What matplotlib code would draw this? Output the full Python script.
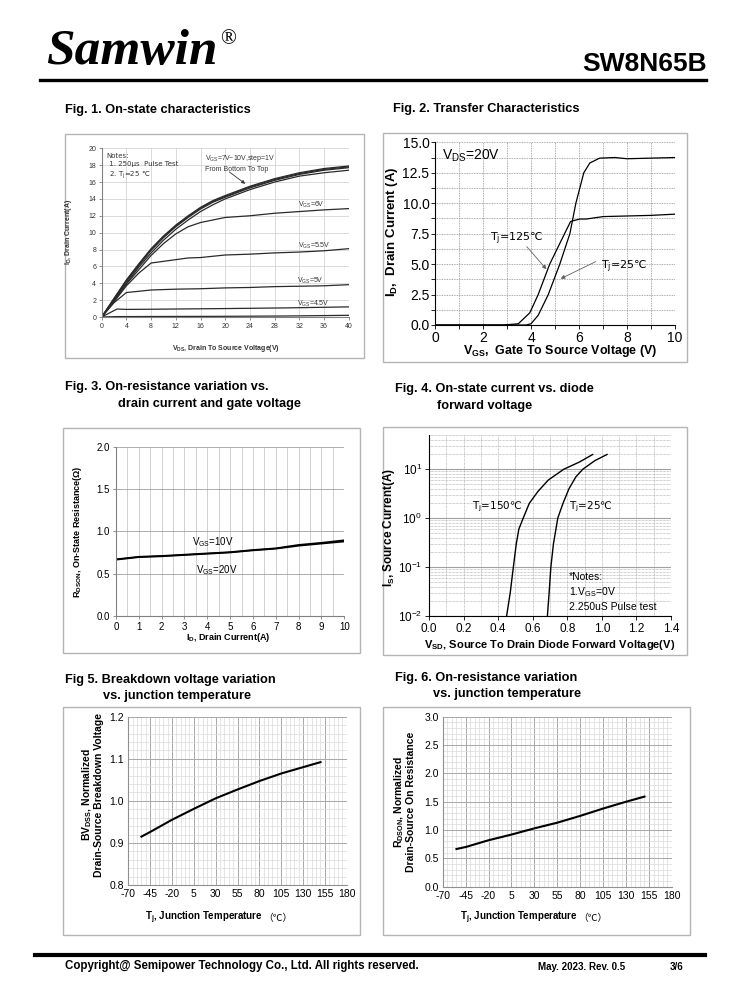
import matplotlib
matplotlib.use("Agg")
import matplotlib.pyplot as plt
from matplotlib.patches import Rectangle
from matplotlib.lines import Line2D
from matplotlib.ticker import MultipleLocator, LogLocator, NullFormatter

plt.rcParams['font.family'] = ['Liberation Sans', 'DejaVu Sans']
plt.rcParams['mathtext.default'] = 'regular'
plt.rcParams['axes.unicode_minus'] = False

W, H = 738, 1000
CJK = ['Noto Sans CJK SC', 'DejaVu Sans']

# Fig 1: on-state characteristics
VDS = [0, 2, 4, 6, 8, 10, 12, 14, 16, 18, 20, 24, 28, 32, 36, 40]
ID_VGS10 = [0, 2.2, 4.4, 6.3, 8.1, 9.6, 10.9, 12.0, 13.0, 13.8, 14.4, 15.5, 16.4, 17.1, 17.6, 17.9]
ID_VGS9 = [0, 2.2, 4.3, 6.2, 8.0, 9.5, 10.8, 11.9, 12.9, 13.7, 14.3, 15.4, 16.3, 17.0, 17.5, 17.8]
ID_VGS8 = [0, 2.1, 4.2, 6.1, 7.9, 9.4, 10.7, 11.8, 12.8, 13.6, 14.2, 15.3, 16.2, 16.9, 17.4, 17.7]
ID_VGS7 = [0, 2.0, 4.0, 5.9, 7.6, 9.1, 10.4, 11.5, 12.5, 13.3, 14.0, 15.1, 16.0, 16.7, 17.1, 17.4]
ID_VGS6 = [0, 1.9, 3.9, 5.6, 7.3, 8.7, 9.85, 10.7, 11.2, 11.5, 11.8, 12.0, 12.3, 12.5, 12.7, 12.85]
VDS_55 = [0, 2, 4, 6, 8, 12, 14, 16, 20, 24, 28, 32, 36, 40]
ID_VGS55 = [0, 1.8, 3.7, 5.2, 6.4, 6.8, 7.0, 7.05, 7.35, 7.45, 7.6, 7.7, 7.85, 8.1]
VDS_5 = [0, 2, 4, 8, 12, 16, 20, 24, 28, 32, 36, 40]
ID_VGS5 = [0, 1.7, 2.9, 3.2, 3.3, 3.35, 3.45, 3.5, 3.6, 3.65, 3.7, 3.83]
VDS_LOW = [0, 2.5, 4, 8, 20, 30, 40]
ID_VGS45 = [0, 0.95, 0.9, 0.92, 1.0, 1.08, 1.2]
ID_VGS4 = [0, 0.05, 0.05, 0.06, 0.08, 0.12, 0.2]

# Fig 2: transfer characteristics
VGS_25 = [0, 3.8, 4.0, 4.3, 4.72, 5.2, 5.62, 5.87, 6.2, 6.45, 6.86, 7.5, 8, 9, 10]
ID_25 = [0, 0, 0.1, 0.8, 2.5, 5.0, 7.5, 10.0, 12.5, 13.3, 13.7, 13.75, 13.65, 13.7, 13.75]
VGS_125 = [0, 2.84, 3.47, 3.95, 4.3, 4.78, 5.4, 5.65, 6.03, 6.3, 7.0, 8, 9, 10]
ID_125 = [0, 0, 0.1, 1.0, 2.5, 5.0, 7.5, 8.5, 8.7, 8.7, 8.9, 8.95, 9.0, 9.1]

# Fig 3: on-resistance vs drain current
ID3 = [0, 1, 2, 3, 4, 5, 6, 7, 8, 9, 10]
RDS_10V = [0.67, 0.70, 0.71, 0.725, 0.74, 0.755, 0.78, 0.80, 0.84, 0.865, 0.895]
RDS_20V = [0.665, 0.695, 0.705, 0.72, 0.735, 0.75, 0.775, 0.795, 0.83, 0.855, 0.88]

# Fig 4: body diode forward voltage
VSD_150 = [0.449, 0.47, 0.488, 0.505, 0.52, 0.545, 0.58, 0.63, 0.69, 0.78, 0.87, 0.947]
IS_150 = [0.01, 0.03, 0.1, 0.3, 0.6, 1.0, 2.0, 3.5, 6, 10, 14, 20]
VSD_25 = [0.685, 0.695, 0.705, 0.72, 0.745, 0.775, 0.81, 0.85, 0.89, 0.96, 1.03]
IS_25 = [0.01, 0.03, 0.1, 0.3, 1.0, 2.0, 4.0, 7.0, 10.0, 15.0, 20.0]

# Fig 5 / Fig 6: temperature dependence
TJ = [-55, -45, -20, 5, 30, 55, 80, 105, 130, 150]
BV_NORM = [0.915, 0.926, 0.955, 0.981, 1.006, 1.027, 1.047, 1.065, 1.08, 1.092]
RDS_NORM = [0.665, 0.70, 0.82, 0.92, 1.03, 1.13, 1.25, 1.38, 1.50, 1.59]
TJ_TICKS = [-70, -45, -20, 5, 30, 55, 80, 105, 130, 155, 180]


def add_ax(fig, x0, y0, x1, y1):
    return fig.add_axes([x0 / W, 1 - y1 / H, (x1 - x0) / W, (y1 - y0) / H])


def frame(fig, x0, y0, x1, y1, color="#b4b4b4", lw=1.0):
    fig.patches.append(Rectangle((x0 / W, 1 - y1 / H), (x1 - x0) / W, (y1 - y0) / H,
                                 transform=fig.transFigure, fill=False, ec=color, lw=lw))


def ftext(fig, x, y, s, **kw):
    kw.setdefault("va", "center")
    fig.text(x / W, 1 - y / H, s, **kw)


def hline(fig, x0, x1, y, lw):
    fig.add_artist(Line2D([x0 / W, x1 / W], [1 - y / H, 1 - y / H], color="black", lw=lw,
                          transform=fig.transFigure))


def style_spines(ax, color):
    for s in ["top", "right"]:
        ax.spines[s].set_visible(False)
    for s in ["left", "bottom"]:
        ax.spines[s].set_color(color)
        ax.spines[s].set_linewidth(0.8)


def plot_fig1(fig):
    frame(fig, 65, 134, 364, 358)
    ax = add_ax(fig, 101.7, 148.3, 348.7, 317)
    c = "#2a2a2a"
    for y in [ID_VGS10, ID_VGS9, ID_VGS8, ID_VGS7, ID_VGS6]:
        ax.plot(VDS, y, color=c, lw=0.9)
    ax.plot(VDS_55, ID_VGS55, color=c, lw=0.9)
    ax.plot(VDS_5, ID_VGS5, color=c, lw=0.9)
    ax.plot(VDS_LOW, ID_VGS45, color=c, lw=0.9)
    ax.plot(VDS_LOW, ID_VGS4, color=c, lw=0.9)
    ax.set_xlim(0, 40)
    ax.set_ylim(0, 20)
    ax.set_xticks(range(0, 41, 4))
    ax.set_yticks(range(0, 21, 2))
    ax.grid(color="#d4d4d4", lw=0.6)
    ax.set_axisbelow(True)
    style_spines(ax, "#808080")
    ax.tick_params(labelsize=5, length=2, width=0.6, color="#808080", labelcolor="#333333", pad=2)
    fs = 5
    ax.text(0.8, 19.4, "Notes:\n 1. 250μs  Pulse Test\n 2. T$_j$=25 ℃", fontsize=fs, va="top",
            color="#333333", linespacing=1.3, family=["DejaVu Sans"])
    ax.text(16.8, 19.4, "V$_{GS}$=7V~10V,step=1V\nFrom Bottom To Top", fontsize=fs, va="top",
            color="#333333", linespacing=1.3)
    ax.annotate("", xy=(23.6, 15.6), xytext=(20.3, 17.4),
                arrowprops=dict(arrowstyle="-|>", color="#333333", lw=0.6, mutation_scale=5))
    for x, y, s in [(34, 13.3, "V$_{GS}$=6V"), (34.4, 8.4, "V$_{GS}$=5.5V"),
                    (33.8, 4.3, "V$_{GS}$=5V"), (34.2, 1.6, "V$_{GS}$=4.5V")]:
        ax.text(x, y, s, fontsize=fs, ha="center", va="center", color="#333333")
    ftext(fig, 69, 232, "I$_D$, Drain Current(A)", fontsize=5, fontweight="bold", rotation=90,
          ha="center", color="#333333")
    ftext(fig, 226, 348, "V$_{DS}$, Drain To Source Voltage(V)", fontsize=5, fontweight="bold",
          ha="center", color="#333333")


def plot_fig2(fig):
    frame(fig, 383, 133, 687, 362)
    ax = add_ax(fig, 435, 142.3, 675, 325)
    ax.plot(VGS_25, ID_25, color="black", lw=0.9)
    ax.plot(VGS_125, ID_125, color="black", lw=0.9)
    ax.set_xlim(0, 10)
    ax.set_ylim(0, 15)
    ax.xaxis.set_major_locator(MultipleLocator(2))
    ax.xaxis.set_minor_locator(MultipleLocator(1))
    ax.yaxis.set_major_locator(MultipleLocator(2.5))
    ax.yaxis.set_minor_locator(MultipleLocator(1.25))
    ax.yaxis.set_major_formatter(lambda v, p: f"{v:.1f}")
    ax.grid(which="both", color="#909090", lw=0.6, ls=(0, (1, 1)))
    style_spines(ax, "black")
    ax.tick_params(which="both", labelsize=10, length=3, width=0.6, pad=1)
    ax.text(0.3, 13.9, "V$_{DS}$=20V", fontsize=10, va="center")
    ax.text(2.3, 7.1, "T$_j$=125℃", fontsize=8, va="center", family=["DejaVu Sans"])
    ax.text(6.9, 4.8, "T$_j$=25℃", fontsize=8, va="center", family=["DejaVu Sans"])
    ax.annotate("", xy=(4.72, 4.4), xytext=(3.75, 6.6),
                arrowprops=dict(arrowstyle="-|>", color="#606060", lw=0.6, mutation_scale=6))
    ax.annotate("", xy=(5.13, 3.7), xytext=(6.8, 5.3),
                arrowprops=dict(arrowstyle="-|>", color="#606060", lw=0.6, mutation_scale=6))
    ftext(fig, 392, 232, "I$_D$,  Drain Current (A)", fontsize=9.5, fontweight="bold", rotation=90,
          ha="center")
    ftext(fig, 560, 351, "V$_{GS}$,  Gate To Source Voltage (V)", fontsize=9, fontweight="bold",
          ha="center")


def plot_fig3(fig):
    frame(fig, 63, 428, 360, 653)
    ax = add_ax(fig, 116, 446.7, 344.3, 616)
    ax.plot(ID3, RDS_10V, color="black", lw=1.2)
    ax.plot(ID3, RDS_20V, color="black", lw=1.2)
    ax.set_xlim(0, 10)
    ax.set_ylim(0, 2)
    ax.xaxis.set_major_locator(MultipleLocator(1))
    ax.xaxis.set_minor_locator(MultipleLocator(0.5))
    ax.yaxis.set_major_locator(MultipleLocator(0.5))
    ax.yaxis.set_major_formatter(lambda v, p: f"{v:.1f}")
    ax.grid(axis="x", which="both", color="#c8c8c8", lw=0.6)
    ax.grid(axis="y", which="major", color="#a0a0a0", lw=0.6)
    ax.set_axisbelow(True)
    style_spines(ax, "#808080")
    ax.tick_params(which="both", labelsize=7, length=2.5, width=0.6, color="#808080", pad=2)
    ax.tick_params(which="minor", length=0)
    ax.text(4.26, 0.87, "V$_{GS}$=10V", fontsize=7, ha="center", va="center")
    ax.text(4.4, 0.54, "V$_{GS}$=20V", fontsize=7, ha="center", va="center")
    ftext(fig, 78, 532, "R$_{DSON}$, On-State Resistance(Ω)", fontsize=6.5, fontweight="bold",
          rotation=90, ha="center")
    ftext(fig, 228, 637, "I$_D$, Drain Current(A)", fontsize=6.5, fontweight="bold", ha="center")


def plot_fig4(fig):
    frame(fig, 383, 427, 687, 655)
    ax = add_ax(fig, 429, 435, 671, 616)
    ax.plot(VSD_150, IS_150, color="black", lw=1.0)
    ax.plot(VSD_25, IS_25, color="black", lw=1.0)
    ax.set_yscale("log")
    ax.set_xlim(0, 1.4)
    ax.set_ylim(0.01, 50)
    ax.xaxis.set_major_locator(MultipleLocator(0.2))
    ax.xaxis.set_minor_locator(MultipleLocator(0.1))
    ax.xaxis.set_major_formatter(lambda v, p: f"{v:.1f}")
    ax.yaxis.set_major_locator(LogLocator(base=10, numticks=10))
    ax.yaxis.set_minor_locator(LogLocator(base=10, subs=range(2, 10), numticks=20))
    ax.yaxis.set_minor_formatter(NullFormatter())
    ax.grid(axis="y", which="major", color="#a0a0a0", lw=0.8)
    ax.grid(axis="y", which="minor", color="#a0a0a0", lw=0.5, ls=(0, (1, 1)))
    ax.grid(axis="x", which="both", color="#a0a0a0", lw=0.5, ls=(0, (1, 1)))
    style_spines(ax, "black")
    ax.tick_params(which="both", labelsize=8.5, length=3, width=0.6, pad=2)
    ax.tick_params(which="minor", length=0)
    ax.text(0.25, 1.7, "T$_j$=150℃", fontsize=7.5, va="center", family=["DejaVu Sans"])
    ax.text(0.81, 1.7, "T$_j$=25℃", fontsize=7.5, va="center", family=["DejaVu Sans"])
    ax.text(0.81, 0.012, "*Notes:\n1.V$_{GS}$=0V\n2.250uS Pulse test", fontsize=7.5,
            va="bottom", linespacing=1.35)
    ftext(fig, 389, 527, "I$_S$, Source Current(A)", fontsize=8.5, fontweight="bold", rotation=90,
          ha="center")
    ftext(fig, 550, 645, "V$_{SD}$, Source To Drain Diode Forward Voltage(V)", fontsize=8,
          fontweight="bold", ha="center")


def temp_axes(ax, ymax, ymajor, yminor, ymin=0.0):
    ax.set_xlim(-70, 180)
    ax.set_ylim(ymin, ymax)
    ax.set_xticks(TJ_TICKS)
    ax.xaxis.set_minor_locator(MultipleLocator(5))
    ax.yaxis.set_major_locator(MultipleLocator(ymajor))
    ax.yaxis.set_minor_locator(MultipleLocator(yminor))
    ax.yaxis.set_major_formatter(lambda v, p: f"{v:.1f}")
    ax.grid(which="major", color="#a8a8a8", lw=0.7)
    ax.grid(which="minor", color="#dadada", lw=0.5)
    ax.set_axisbelow(True)
    style_spines(ax, "#909090")
    ax.tick_params(which="both", labelsize=7.5, length=0, pad=3)


def plot_fig5(fig):
    frame(fig, 63, 707, 360, 935)
    ax = add_ax(fig, 128.3, 716.7, 346.7, 885)
    ax.plot(TJ, BV_NORM, color="black", lw=1.5)
    temp_axes(ax, 1.2, 0.1, 0.02, ymin=0.8)
    ftext(fig, 92, 795, "BV$_{DSS}$, Normalized\nDrain-Source Breakdown Voltage", fontsize=7.5,
          fontweight="bold", rotation=90, ha="center", linespacing=1.0)
    ftext(fig, 145, 918, "T$_j$, Junction Temperature", fontsize=7, fontweight="bold", ha="left")
    ftext(fig, 263, 918, "（℃）", fontsize=7, ha="left", family=CJK)


def plot_fig6(fig):
    frame(fig, 383, 707, 690, 935)
    ax = add_ax(fig, 442.7, 716.7, 672, 886.7)
    ax.plot(TJ, RDS_NORM, color="black", lw=1.5)
    temp_axes(ax, 3.0, 0.5, 0.1)
    ftext(fig, 404, 802, "R$_{DSON}$, Normalized\nDrain-Source On Resistance", fontsize=7.5,
          fontweight="bold", rotation=90, ha="center", linespacing=1.0)
    ftext(fig, 460, 918, "T$_j$, Junction Temperature", fontsize=7, fontweight="bold", ha="left")
    ftext(fig, 578, 918, "（℃）", fontsize=7, ha="left", family=CJK)


def page(fig):
    ftext(fig, 46, 52, "Samwin", fontsize=37, fontweight="bold", style="italic",
          family=["Liberation Serif"], ha="left")
    ftext(fig, 220, 40, "®", fontsize=15, family=["Liberation Serif"], ha="left")
    ftext(fig, 707, 64, "SW8N65B", fontsize=19, fontweight="bold", ha="right")
    hline(fig, 40, 706, 80, 2.4)
    hline(fig, 35, 705, 955, 3.0)
    tfs = 9.2
    ftext(fig, 65, 110, "Fig. 1. On-state characteristics", fontsize=tfs, fontweight="bold")
    ftext(fig, 393, 109, "Fig. 2. Transfer Characteristics", fontsize=tfs, fontweight="bold")
    ftext(fig, 65, 387, "Fig. 3. On-resistance variation vs.", fontsize=tfs, fontweight="bold")
    ftext(fig, 118, 404, "drain current and gate voltage", fontsize=tfs, fontweight="bold")
    ftext(fig, 395, 389, "Fig. 4. On-state current vs. diode", fontsize=tfs, fontweight="bold")
    ftext(fig, 437, 406, "forward voltage", fontsize=tfs, fontweight="bold")
    ftext(fig, 65, 680, "Fig 5. Breakdown voltage variation", fontsize=tfs, fontweight="bold")
    ftext(fig, 103, 696, "vs. junction temperature", fontsize=tfs, fontweight="bold")
    ftext(fig, 395, 678, "Fig. 6. On-resistance variation", fontsize=tfs, fontweight="bold")
    ftext(fig, 433, 694, "vs. junction temperature", fontsize=tfs, fontweight="bold")
    ftext(fig, 65, 966, "Copyright@ Semipower Technology Co., Ltd. All rights reserved.",
          fontsize=8.3, fontweight="bold")
    ftext(fig, 538, 967, "May. 2023. Rev. 0.5", fontsize=7, fontweight="bold")
    ftext(fig, 670, 967, "3/6", fontsize=7, fontweight="bold")


if __name__ == "__main__":
    fig = plt.figure(figsize=(W / 100, H / 100), dpi=100)
    page(fig)
    plot_fig1(fig)
    plot_fig2(fig)
    plot_fig3(fig)
    plot_fig4(fig)
    plot_fig5(fig)
    plot_fig6(fig)
    fig.savefig("out.png", dpi=100)
